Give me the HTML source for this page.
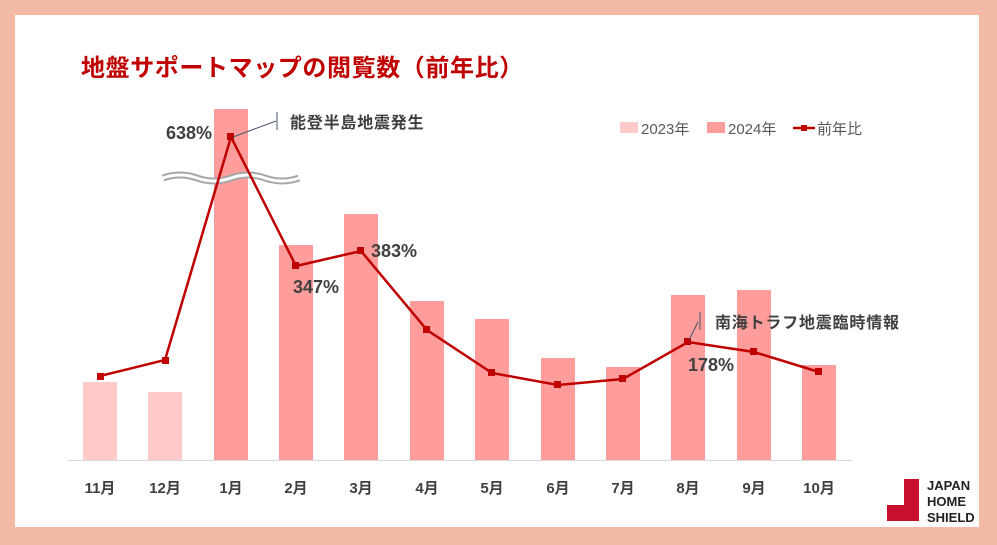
<!DOCTYPE html>
<html><head><meta charset="utf-8"><style>
body{margin:0;width:997px;height:545px;background:#f3bba6;overflow:hidden}
svg{display:block}
text{font-family:"Liberation Sans","Noto Sans CJK JP",sans-serif}
</style></head><body>
<svg width="997" height="545" viewBox="0 0 997 545">
<rect x="0" y="0" width="997" height="545" fill="#f3bba6"/>
<rect x="15" y="15" width="964" height="512" fill="#fff"/>
<text x="81" y="76" font-size="24" font-weight="bold" fill="#c00000" letter-spacing="0.6">地盤サポートマップの閲覧数（前年比）</text>
<line x1="67" y1="460.5" x2="852" y2="460.5" stroke="#d9d9d9" stroke-width="1"/>
<g fill="#fecaca">
<rect x="83" y="382" width="34" height="78"/>
<rect x="148" y="392" width="34" height="68"/>
</g>
<g fill="#ff9c9c">
<rect x="214" y="109" width="34" height="351"/>
<rect x="279" y="245" width="34" height="215"/>
<rect x="344" y="214" width="34" height="246"/>
<rect x="410" y="301" width="34" height="159"/>
<rect x="475" y="319" width="34" height="141"/>
<rect x="541" y="358" width="34" height="102"/>
<rect x="606" y="367" width="34" height="93"/>
<rect x="671" y="295" width="34" height="165"/>
<rect x="737" y="290" width="34" height="170"/>
<rect x="802" y="365" width="34" height="95"/>
</g>
<path d="M163,178 q17,-6 34,0 t34,0 t34,0 t34,0" fill="none" stroke="#a6a6a6" stroke-width="7"/>
<path d="M163,178 q17,-6 34,0 t34,0 t34,0 t34,0" fill="none" stroke="#fff" stroke-width="3"/>
<polyline points="100,376 165,360 231,137 296,266 361,251 427,330 492,373 558,385 623,379 688,342 754,352 819,372" fill="none" stroke="#c00000" stroke-width="2.5"/>
<g fill="#c00000">
<rect x="97" y="373" width="7" height="7"/><rect x="162" y="357" width="7" height="7"/><rect x="227" y="133" width="7" height="7"/><rect x="292" y="262" width="7" height="7"/><rect x="357" y="247" width="7" height="7"/><rect x="423" y="326" width="7" height="7"/><rect x="488" y="369" width="7" height="7"/><rect x="554" y="381" width="7" height="7"/><rect x="619" y="375" width="7" height="7"/><rect x="684" y="338" width="7" height="7"/><rect x="750" y="348" width="7" height="7"/><rect x="815" y="368" width="7" height="7"/>
</g>
<line x1="233" y1="137" x2="276" y2="121" stroke="#44546a" stroke-width="1"/>
<line x1="277" y1="112" x2="277" y2="130" stroke="#44546a" stroke-width="1"/>
<line x1="689" y1="340" x2="698" y2="322" stroke="#44546a" stroke-width="1"/>
<line x1="700" y1="312" x2="700" y2="330" stroke="#44546a" stroke-width="1"/>
<g font-size="18" font-weight="bold" fill="#404040">
<text x="166" y="139">638%</text>
<text x="293" y="293">347%</text>
<text x="371" y="257">383%</text>
<text x="688" y="371">178%</text>
</g>
<g font-size="16" font-weight="bold" fill="#404040" letter-spacing="0.8">
<text x="290" y="128">能登半島地震発生</text>
<text x="715" y="328">南海トラフ地震臨時情報</text>
</g>
<g font-size="15" fill="#595959">
<rect x="620" y="122" width="18" height="11" fill="#fecaca"/><text x="641" y="134">2023年</text>
<rect x="707" y="122" width="18" height="11" fill="#ff9c9c"/><text x="728" y="134">2024年</text>
<line x1="793" y1="128" x2="815" y2="128" stroke="#c00000" stroke-width="2.5"/><rect x="801" y="125" width="6" height="6" fill="#c00000"/><text x="817" y="134">前年比</text>
</g>
<g font-size="15" font-weight="bold" fill="#404040" text-anchor="middle">
<text x="100" y="493">11月</text><text x="165" y="493">12月</text><text x="231" y="493">1月</text><text x="296" y="493">2月</text><text x="361" y="493">3月</text><text x="427" y="493">4月</text><text x="492" y="493">5月</text><text x="558" y="493">6月</text><text x="623" y="493">7月</text><text x="688" y="493">8月</text><text x="754" y="493">9月</text><text x="819" y="493">10月</text>
</g>
<path d="M904,479 h15 v42 h-32 v-16 h17 z" fill="#c8102e"/>
<g font-size="13" font-weight="bold" fill="#222">
<text x="927" y="490">JAPAN</text><text x="927" y="506">HOME</text><text x="927" y="522">SHIELD</text>
</g>
</svg>
</body></html>
